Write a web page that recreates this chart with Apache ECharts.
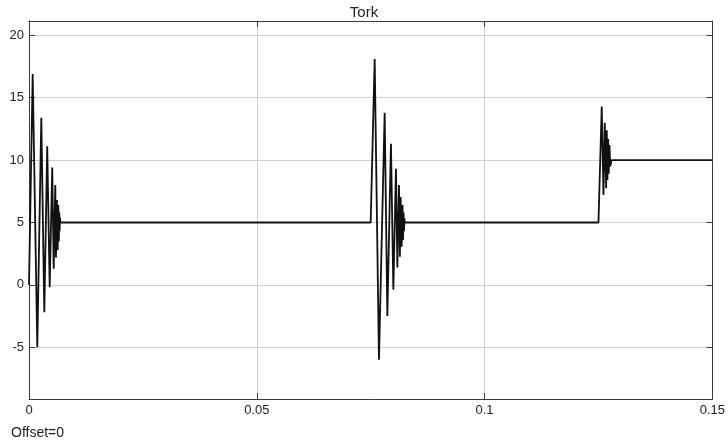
<!DOCTYPE html>
<html>
<head>
<meta charset="utf-8">
<script src="https://cdn.jsdelivr.net/npm/echarts@6/dist/echarts.min.js"></script>
<style>
html,body{margin:0;padding:0;background:#fff;}
#chart{width:728px;height:445px;}
</style>
</head>
<body>
<div id="chart"></div>
<script>
const chartTitle = 'Tork';
const offsetLabel = 'Offset=0';
const xTicks = [0, 0.05, 0.1, 0.15];
const yTicks = [-5, 0, 5, 10, 15, 20];
const timeSec = [
  0, 0.00081, 0.00182, 0.0020, 0.0027, 0.00336, 0.0040, 0.00454, 0.0051, 0.00542,
  0.00577, 0.00592, 0.00614, 0.0063, 0.00645, 0.00655, 0.00665, 0.00672, 0.0068, 0.0069,
  0.0750, 0.07588, 0.07682, 0.07807, 0.07866, 0.07945, 0.07998, 0.08055, 0.08086, 0.08121,
  0.08142, 0.08158, 0.0818, 0.0820, 0.0821, 0.08222, 0.08232, 0.0824, 0.0825,
  0.1250, 0.12572, 0.1261, 0.12638, 0.12669, 0.12682, 0.12697, 0.12713, 0.12726, 0.12741,
  0.12760, 0.12785, 0.15
];
const torqueNm = [
  0, 16.9, -5, -5, 13.4, -2.2, 11.1, -0.2, 9.4, 1.3,
  8.0, 2.2, 6.8, 2.8, 6.4, 3.5, 5.8, 4.3, 5.4, 5.0,
  5.0, 18.1, -6.0, 13.8, -2.5, 11.3, -0.4, 9.3, 1.4, 8.0,
  2.25, 7.05, 3.05, 6.4, 3.6, 5.8, 4.3, 5.3, 5.0,
  5.0, 14.3, 7.2, 13.0, 7.75, 12.4, 8.4, 11.7, 8.9, 11.2,
  9.5, 10.0, 10.0
];

const seriesData = timeSec.map((t, i) => [t, torqueNm[i]]);
const FONT = '"Liberation Sans", Arial, sans-serif';
const axisColor = '#3a3a3a';
const gridColor = '#cfcfcf';

function fmtX(v) {
  for (const t of xTicks) if (Math.abs(v - t) < 1e-9) return String(t);
  return '';
}
function fmtY(v) {
  for (const t of yTicks) if (Math.abs(v - t) < 1e-9) return String(t);
  return '';
}

const chart = echarts.init(document.getElementById('chart'), null, {renderer: 'canvas'});
chart.setOption({
  animation: false,
  backgroundColor: '#fff',
  title: {
    text: chartTitle, left: 'center', top: 0,
    textStyle: {fontFamily: FONT, fontSize: 15, fontWeight: 'normal', color: '#222'}
  },
  graphic: [{
    type: 'text', left: 11, top: 426,
    style: {text: offsetLabel, fontFamily: FONT, fontSize: 14, fill: '#222'}
  }],
  grid: {left: 29, right: 15, top: 21, bottom: 46, containLabel: false},
  xAxis: [{
    type: 'value', position: 'bottom', min: 0, max: 0.15, interval: 0.05,
    axisLine: {show: true, onZero: false, lineStyle: {color: axisColor, width: 1}},
    axisTick: {show: true, inside: true, length: 6, lineStyle: {color: axisColor}},
    axisLabel: {formatter: fmtX, fontFamily: FONT, fontSize: 13, color: '#222', margin: 5},
    splitLine: {show: true, lineStyle: {color: gridColor, width: 1}}
  }, {
    type: 'value', position: 'top', min: 0, max: 0.15, interval: 0.05,
    axisLine: {show: true, onZero: false, lineStyle: {color: axisColor, width: 1}},
    axisTick: {show: true, inside: true, length: 6, lineStyle: {color: axisColor}},
    axisLabel: {show: false},
    splitLine: {show: false}
  }],
  yAxis: [{
    type: 'value', position: 'left', min: -9.15, max: 21.15,
    splitNumber: 6, minInterval: 5, maxInterval: 5,
    axisLine: {show: true, onZero: false, lineStyle: {color: axisColor, width: 1}},
    axisTick: {show: true, inside: true, length: 6, lineStyle: {color: axisColor}},
    axisLabel: {formatter: fmtY, fontFamily: FONT, fontSize: 13, color: '#222', margin: 5},
    splitLine: {show: true, lineStyle: {color: gridColor, width: 1}}
  }, {
    type: 'value', position: 'right', min: -9.15, max: 21.15,
    splitNumber: 6, minInterval: 5, maxInterval: 5,
    axisLine: {show: true, onZero: false, lineStyle: {color: axisColor, width: 1}},
    axisTick: {show: true, inside: true, length: 6, lineStyle: {color: axisColor}},
    axisLabel: {show: false},
    splitLine: {show: false}
  }],
  series: [{
    type: 'line', xAxisIndex: 0, yAxisIndex: 0,
    data: seriesData, showSymbol: false, symbol: 'none',
    lineStyle: {color: '#111', width: 1.8},
    z: 5
  }]
});
</script>
</body>
</html>
